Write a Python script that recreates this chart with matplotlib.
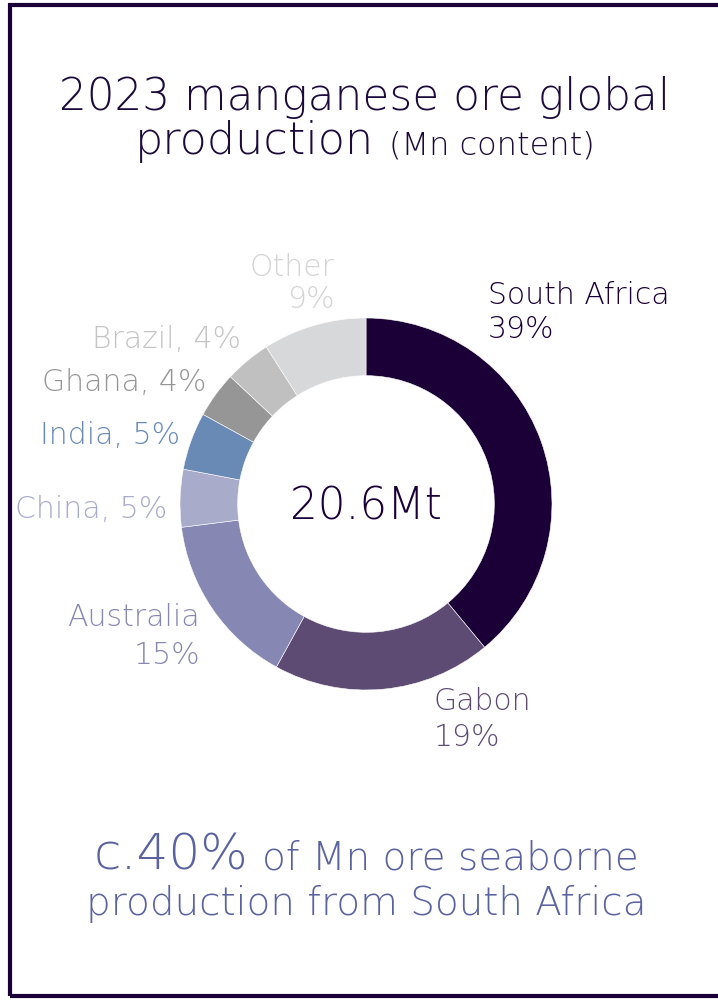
import matplotlib
matplotlib.use("Agg")
import matplotlib.pyplot as plt
from matplotlib.patches import Rectangle

# ---- data ----
countries = ["South Africa", "Gabon", "Australia", "China", "India", "Ghana", "Brazil", "Other"]
shares = [39, 19, 15, 5, 5, 4, 4, 9]
colors = ["#1b0037", "#5e4b73", "#8787b3", "#a9abcb", "#6a8ab6", "#969696", "#c0c0c0", "#d7d8da"]
label_colors = ["#1b0037", "#5e4b73", "#8787b3", "#a9abcb", "#6a8ab6", "#969696", "#c4c4c4", "#d3d4d6"]
total_text = "20.6Mt"

W, H = 718, 1002
fig = plt.figure(figsize=(W / 100, H / 100), dpi=100)
fig.patch.set_facecolor("white")

FONT = ["DejaVu Sans"]
WEIGHT = "light"

def fx(x):
    return x / W

def fy(y):
    return 1 - y / H

renderer = fig.canvas.get_renderer()

def group(pieces, center_x, y, color, gap):
    """pieces: list of (text, fontsize, dy). Placed side by side, centred on center_x."""
    objs = []
    widths = []
    for txt, fs, dy in pieces:
        t = fig.text(0, fy(y + dy), txt, ha="left", va="baseline", fontsize=fs,
                     color=color, family=FONT, weight=WEIGHT)
        widths.append(t.get_window_extent(renderer).width)
        objs.append(t)
    total = sum(widths) + gap * (len(pieces) - 1)
    x = center_x - total / 2
    for t, w in zip(objs, widths):
        t.set_x(fx(x))
        x += w + gap

# border (right side runs off the image)
fig.add_artist(Rectangle((fx(10), fy(996)), fx(800), (996 - 5) / H,
                         transform=fig.transFigure, fill=False,
                         edgecolor="#1b0037", linewidth=3))

# donut
cx, cy, R = 366, 504, 186
ax = fig.add_axes([fx(cx - R), fy(cy + R), 2 * R / W, 2 * R / H])
ax.pie(shares, colors=colors, startangle=90, counterclock=False, radius=1.0,
       wedgeprops=dict(width=0.31, edgecolor="white", linewidth=0.4))
ax.set_xlim(-1, 1)
ax.set_ylim(-1, 1)
ax.set_aspect("equal")
ax.axis("off")

fig.text(fx(cx), fy(507), total_text, ha="center", va="center", fontsize=31.5,
         color="#1b0037", family=FONT, weight=WEIGHT)

# labels: (text, x, y, ha)
lab_fs = 21.5
label_pos = {
    "South Africa": [("South Africa", 488, 296, "left"), ("39%", 488, 330, "left")],
    "Gabon": [("Gabon", 434, 702, "left"), ("19%", 434, 738, "left")],
    "Australia": [("Australia", 200, 618, "right"), ("15%", 200, 655, "right")],
    "China": [("China, 5%", 167, 509, "right")],
    "India": [("India, 5%", 180, 435, "right")],
    "Ghana": [("Ghana, 4%", 206, 382, "right")],
    "Brazil": [("Brazil, 4%", 241, 340, "right")],
    "Other": [("Other", 335, 267, "right"), ("9%", 335, 300, "right")],
}
for name, col in zip(countries, label_colors):
    for txt, x, y, ha in label_pos[name]:
        fig.text(fx(x), fy(y), txt, ha=ha, va="center", fontsize=lab_fs,
                 color=col, family=FONT, weight=WEIGHT)

# title
title_col = "#1b0a3a"
fig.text(fx(365), fy(110), "2023 manganese ore global", ha="center", va="baseline",
         fontsize=31.5, color=title_col, family=FONT, weight=WEIGHT)
group([("production", 32, 0), ("(Mn content)", 23, 0)], 365, 154, title_col, 15)

# bottom note
note_col = "#5a62a0"
group([("c.40%", 36, 0), ("of Mn ore seaborne", 28, 0)], 366, 870, note_col, 14)
fig.text(fx(366), fy(915), "production from South Africa", ha="center", va="baseline",
         fontsize=28, color=note_col, family=FONT, weight=WEIGHT)

fig.savefig("out.png", dpi=100, facecolor="white")
